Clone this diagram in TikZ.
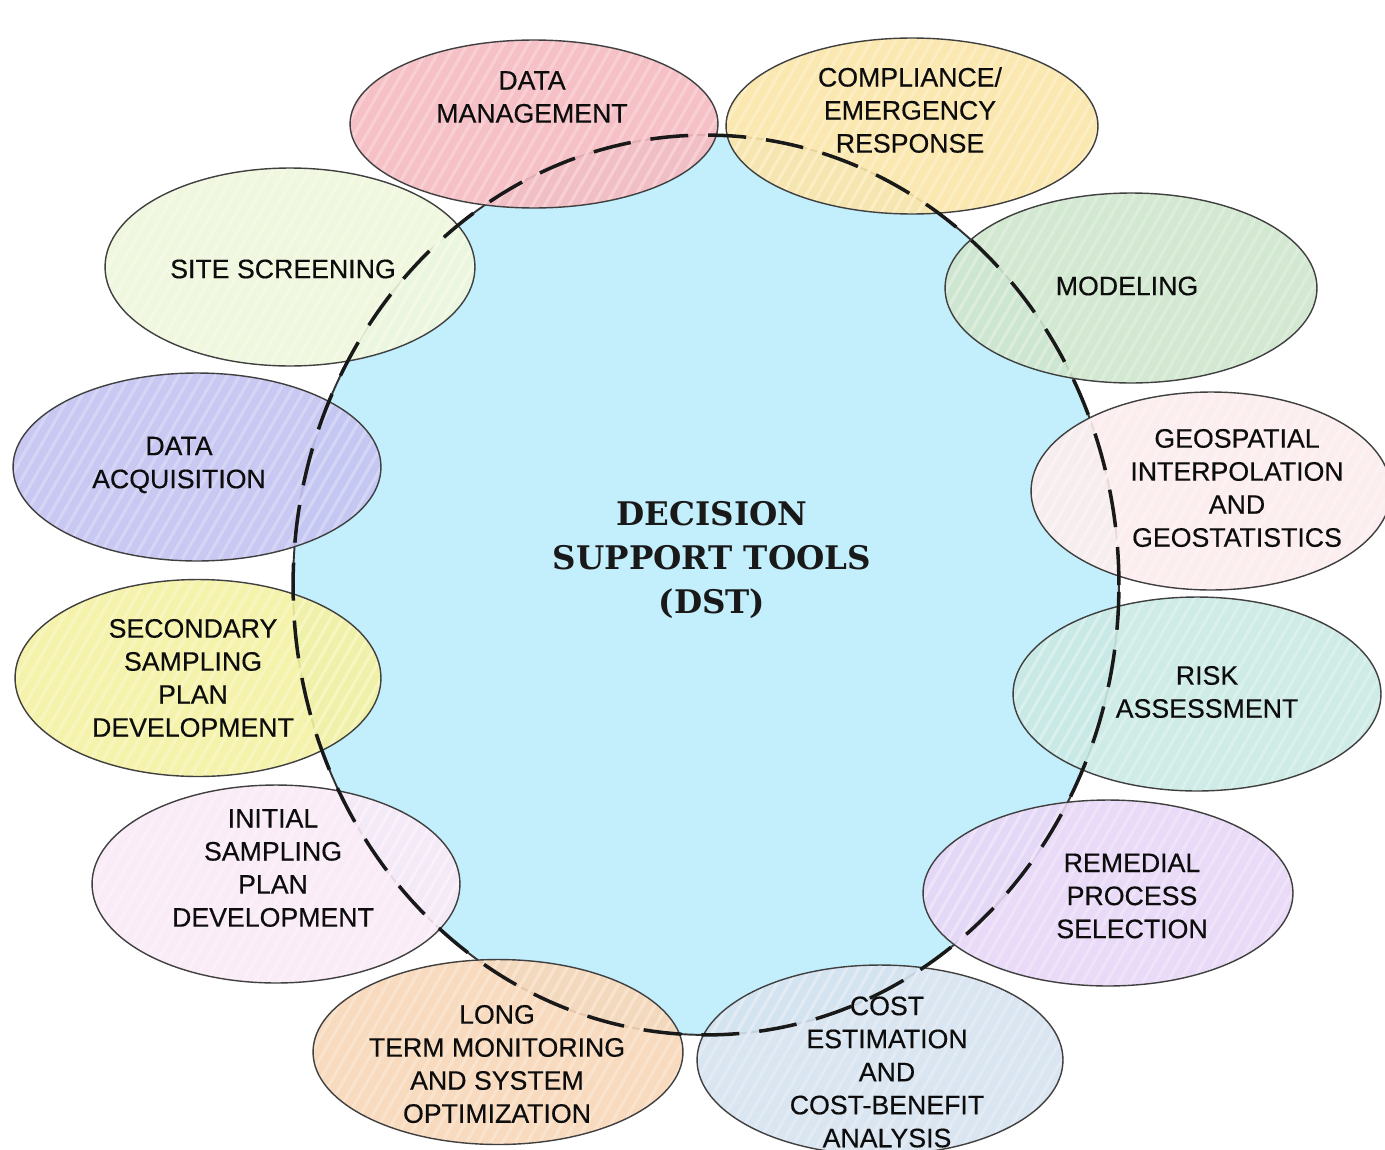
\documentclass[tikz,border=0pt]{standalone}
\usepackage{fontspec}
\setmainfont{Liberation Sans}
\newfontfamily\tagfont[FakeBold=0.4]{Liberation Sans}
\newfontfamily\dstfont{DejaVu Serif}
\usepackage{tikz}
\usetikzlibrary{shapes.geometric,patterns.meta}

\definecolor{hubblue}{HTML}{C3EEFB}
\definecolor{dmpink}{HTML}{F5BAC0}
\definecolor{cryellow}{HTML}{FBE5A8}
\definecolor{mdgreen}{HTML}{CFE6CD}
\definecolor{gsrose}{HTML}{FCEDEE}
\definecolor{rateal}{HTML}{C9E9E4}
\definecolor{rplilac}{HTML}{E7D7F7}
\definecolor{cegray}{HTML}{D5E3EF}
\definecolor{ltpeach}{HTML}{F8D7B8}
\definecolor{ispink}{HTML}{F9EAF7}
\definecolor{ssyellow}{HTML}{F4F2A2}
\definecolor{dalav}{HTML}{C3C3F1}
\definecolor{scgreen}{HTML}{EFF7DC}

\begin{document}
\begin{tikzpicture}[x=0.02cm, y=-0.02cm,
    hub/.style={ellipse, draw=black!80, line width=1.1pt, fill=hubblue, inner sep=0pt,
        minimum width=16.52cm, minimum height=18cm},
    bubble/.style={ellipse, draw=black!75, line width=0.8pt, inner sep=0pt,
        minimum width=7.36cm, minimum height=3.7cm,
        preaction={fill=#1, fill opacity=0.9},
        pattern={Lines[angle=60, distance=6pt, line width=1.8pt]}, pattern color=#1!70!white},
    tag/.style={align=center, font=\tagfont\fontsize{15.2}{18.8}\selectfont, text=black!95},
    ring/.style={line width=2pt, draw=black!90, dash pattern=on 0.76cm off 0.4cm}
    ]
        \useasboundingbox (0,0) rectangle (1385,1149);
        \fill[white] (0,0) rectangle (1385,1149);

        %Hub
        \node[hub] (hub) at (706,585) {};

        %Bubbles
        \node[bubble=dmpink, minimum height=3.36cm]
            (dm) at (534,124) {};
        \node[bubble=cryellow, minimum width=7.44cm, minimum height=3.52cm]
            (cr) at (912,126) {};
        \node[bubble=mdgreen, minimum width=7.44cm, minimum height=3.8cm]
            (md) at (1131,288) {};
        \node[bubble=gsrose, minimum width=7.2cm, minimum height=3.96cm]
            (gs) at (1211,491) {};
        \node[bubble=rateal, minimum height=3.88cm]
            (ra) at (1197,694) {};
        \node[bubble=rplilac, minimum width=7.4cm, minimum height=3.72cm]
            (rp) at (1108,893) {};
        \node[bubble=cegray, minimum width=7.32cm, minimum height=3.8cm]
            (ce) at (880,1060) {};
        \node[bubble=ltpeach, minimum width=7.4cm, minimum height=3.7cm]
            (lt) at (498,1052) {};
        \node[bubble=ispink, minimum height=3.96cm]
            (is) at (276,884) {};
        \node[bubble=ssyellow, minimum width=7.32cm, minimum height=3.94cm]
            (ss) at (198,678) {};
        \node[bubble=dalav, minimum height=3.76cm]
            (da) at (197,467) {};
        \node[bubble=scgreen, minimum width=7.4cm, minimum height=3.96cm]
            (sc) at (290,267) {};

        %Labels
        \node[tag] (dmtxt) at (532,97)   {DATA\\MANAGEMENT};
        \node[tag] (crtxt) at (910,110)  {COMPLIANCE/\\EMERGENCY\\RESPONSE};
        \node[tag] (mdtxt) at (1127,286) {MODELING};
        \node[tag] (gstxt) at (1237,488) {GEOSPATIAL\\INTERPOLATION\\AND\\GEOSTATISTICS};
        \node[tag] (ratxt) at (1207,692) {RISK\\ASSESSMENT};
        \node[tag] (rptxt) at (1132,896) {REMEDIAL\\PROCESS\\SELECTION};
        \node[tag] (cetxt) at (887,1072) {COST\\ESTIMATION\\AND\\COST-BENEFIT\\ANALYSIS};
        \node[tag] (lttxt) at (497,1064) {LONG\\TERM MONITORING\\AND SYSTEM\\OPTIMIZATION};
        \node[tag] (istxt) at (273,868)  {INITIAL\\SAMPLING\\PLAN\\DEVELOPMENT};
        \node[tag] (sstxt) at (193,678)  {SECONDARY\\SAMPLING\\PLAN\\DEVELOPMENT};
        \node[tag] (datxt) at (179,465)  {DATA\\ACQUISITION};
        \node[tag] (sctxt) at (283,269)  {SITE SCREENING};

        \node[align=center, text=black!90, font=\dstfont\bfseries\fontsize{18.5}{25}\selectfont]
            (dst) at (712,560) {DECISION\\SUPPORT TOOLS\\(DST)};

        %Dashed ring
        \draw[ring] (hub.center) ellipse [x radius=8.26cm, y radius=9cm];
\end{tikzpicture}
\end{document}
